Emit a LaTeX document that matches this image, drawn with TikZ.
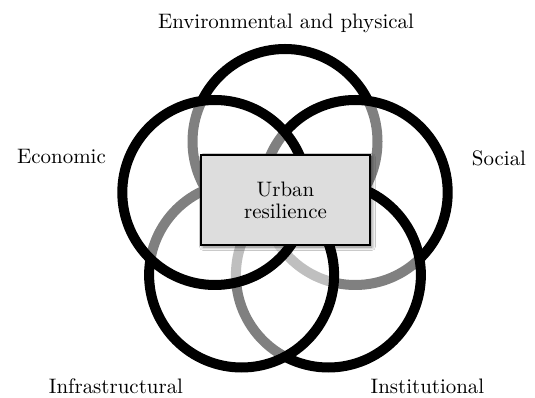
\documentclass[tikz,border=0pt]{standalone}
\usetikzlibrary{shadows.blur}

\tikzset{every picture/.style={line width=0.75pt}}
\tikzset{
  ring/.style={circle, draw={rgb, 255:red, 0; green, 0; blue, 0}, line width=7.5pt, fill=white, fill opacity=0.5, minimum size=138.75pt, inner sep=0pt},
  dimlabel/.style={scale=1.57, inner sep=0pt, anchor=base},
  core/.style={draw={rgb, 255:red, 0; green, 0; blue, 0}, line width=1.5pt, fill={rgb, 255:red, 221; green, 221; blue, 221}, scale=1.57, minimum width=80.7pt, minimum height=43pt, inner sep=0pt, align=center, font=\fontsize{10}{10.4}\selectfont, blur shadow={shadow xshift=1.5pt, shadow yshift=-1.5pt, shadow blur radius=2.5pt, shadow blur steps=8, shadow opacity=50}}
}

\begin{document}
\begin{tikzpicture}[x=0.75pt,y=0.75pt,yscale=-1,xscale=1]
\useasboundingbox (0,0) rectangle (535,398);

%Shape: Circle [top]
\node [ring] (env) at (285,141.5) {};
%Shape: Circle [right]
\node [ring] (soc) at (355.2,192.5) {};
%Shape: Circle [bottom right]
\node [ring] (inst) at (328.4,275) {};
%Shape: Circle [bottom left]
\node [ring] (infra) at (241.6,275) {};
%Shape: Circle [left]
\node [ring] (econ) at (214.8,192.5) {};

%Shape: Rectangle
\node [core] (urban) at (285.5,200) {Urban\\resilience};

% Text Node
\node [dimlabel] (envlbl) at (286,28.3) {Environmental and physical};
% Text Node
\node [dimlabel] (econlbl) at (61.5,163.3) {Economic};
% Text Node
\node [dimlabel] (soclbl) at (499,166) {Social};
% Text Node
\node [dimlabel] (infralbl) at (116,394) {Infrastructural};
% Text Node
\node [dimlabel] (instlbl) at (427.5,394) {Institutional};

\end{tikzpicture}
\end{document}
